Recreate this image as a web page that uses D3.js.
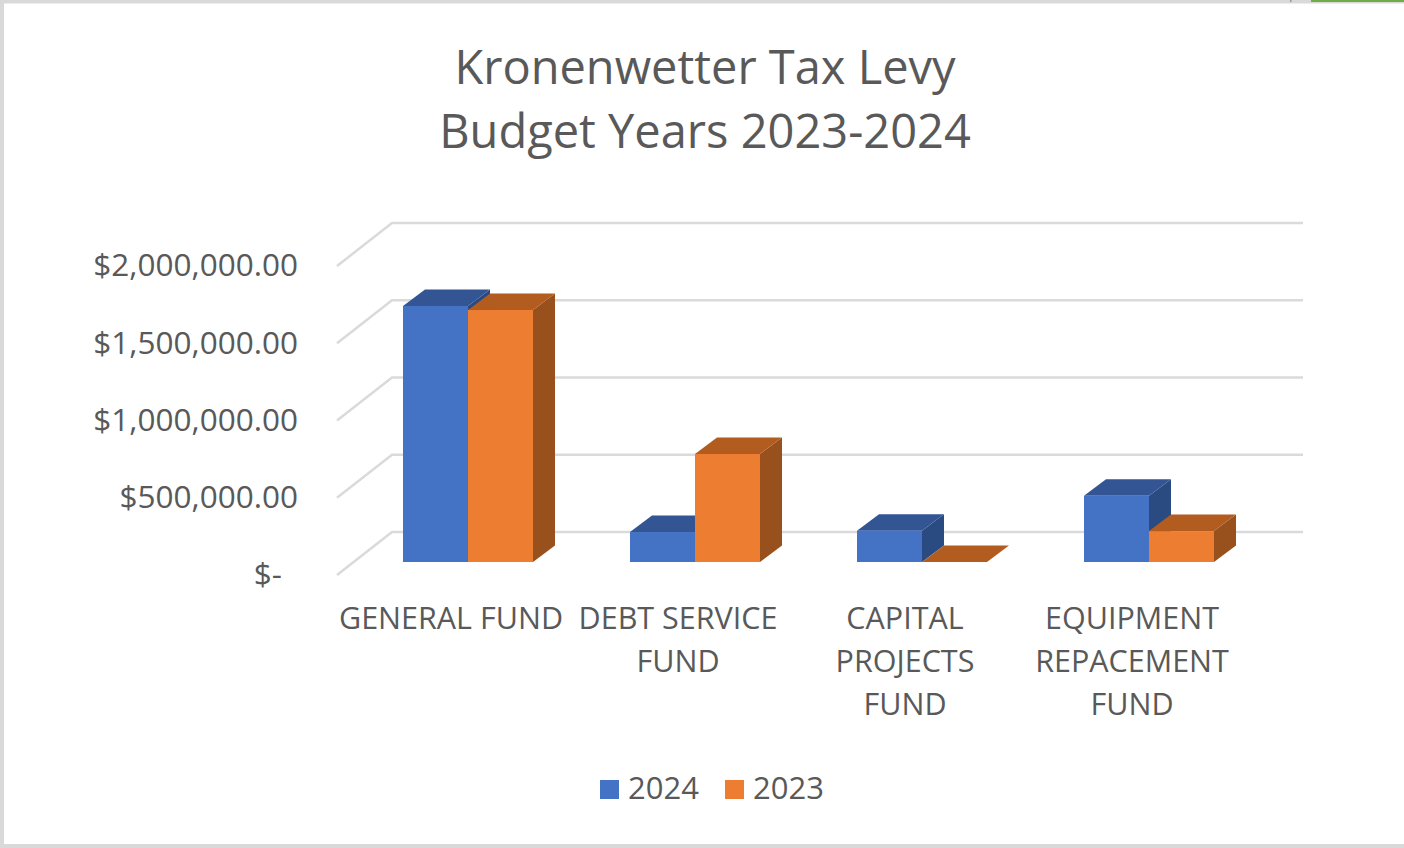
<!DOCTYPE html>
<html>
<head>
<meta charset="utf-8">
<title>Kronenwetter Tax Levy</title>
<script src="https://cdn.jsdelivr.net/npm/d3@7"></script>
<style>
  html, body { margin: 0; padding: 0; background: #fff; }
  svg { display: block; }
  text { font-family: "Open Sans", "Noto Sans", sans-serif; fill: #595959; }
</style>
</head>
<body>
<svg id="chart" width="1404" height="848"></svg>
<script>
const titleLines = ["Kronenwetter Tax Levy", "Budget Years 2023-2024"];
const categories = [["GENERAL FUND"], ["DEBT SERVICE", "FUND"], ["CAPITAL", "PROJECTS", "FUND"], ["EQUIPMENT", "REPACEMENT", "FUND"]];
const seriesNames = ["2024", "2023"];
const levy2024 = [1657000, 194000, 203000, 429000];
const levy2023 = [1631000, 699000, 0, 200000];
const tickValues = [0, 500000, 1000000, 1500000, 2000000];
const tickLabels = ["$-", "$500,000.00", "$1,000,000.00", "$1,500,000.00", "$2,000,000.00"];

const svg = d3.select("#chart");
const palette = [
  { front: "#4472C4", top: "#335593", side: "#2A4A82" },
  { front: "#ED7D31", top: "#B25C20", side: "#98501C" }
];

// Chart frame (open on the right) and the sliver of neighbouring window along the top edge
svg.append("path")
  .attr("d", "M1404,1.5H2V846H1404")
  .attr("fill", "none").attr("stroke", "#D9D9D9").attr("stroke-width", 4);
svg.append("rect").attr("x", 1311).attr("y", 0).attr("width", 93).attr("height", 2).attr("fill", "#70AD47");
svg.append("rect").attr("x", 1290).attr("y", 0).attr("width", 1.5).attr("height", 2).attr("fill", "#999");

// Value scales: bar fronts, and the back wall that the gridlines sit on
const yFront = d3.scaleLinear().domain([0, 2000000]).range([562, 253]);
const yWall = d3.scaleLinear().domain([0, 2000000]).range([532, 223]);
const wallDepth = { dx: 55, dy: 43 };
const barDepth = { dx: 22, dy: 16.5 };
const groupStep = 227;
const barWidth = 65;
const xGroup = d3.scaleBand().domain(d3.range(categories.length))
  .range([403, 403 + groupStep * categories.length]);

// Gridlines: a diagonal on the side wall joined to a rule across the back wall
const gridG = svg.append("g").attr("fill", "none").attr("stroke", "#DADADA").attr("stroke-width", 2.5);
gridG.selectAll("path").data(tickValues).join("path")
  .attr("d", v => {
    const p = d3.path();
    p.moveTo(392 - wallDepth.dx, yWall(v) + wallDepth.dy);
    p.lineTo(392, yWall(v));
    p.lineTo(1303, yWall(v));
    return p.toString();
  });

// Value axis labels
svg.append("g").selectAll("text").data(tickValues).join("text")
  .attr("x", v => v === 0 ? 282 : 298)
  .attr("y", v => yWall(v) + wallDepth.dy)
  .attr("dy", "0.33em")
  .attr("text-anchor", "end")
  .style("font-size", "31.5px")
  .text((v, i) => tickLabels[i]);

// Each bar is three faces, drawn series by series so the later one overlaps
[levy2024, levy2023].forEach((values, s) => {
  const g = svg.append("g");
  const colors = palette[s];
  const bars = g.selectAll("g").data(values).join("g");
  const left = (d, i) => xGroup(i) + s * barWidth;
  bars.append("path").attr("fill", colors.side).attr("d", (d, i) => {
    const x = left(d, i) + barWidth, t = yFront(d), b = yFront(0);
    return d3.line()([[x, t], [x + barDepth.dx, t - barDepth.dy], [x + barDepth.dx, b - barDepth.dy], [x, b]]) + "Z";
  });
  bars.append("path").attr("fill", colors.top).attr("d", (d, i) => {
    const x = left(d, i), t = yFront(d);
    return d3.line()([[x, t], [x + barDepth.dx, t - barDepth.dy], [x + barWidth + barDepth.dx, t - barDepth.dy], [x + barWidth, t]]) + "Z";
  });
  bars.append("rect").attr("fill", colors.front)
    .attr("x", left).attr("y", d => yFront(d))
    .attr("width", barWidth).attr("height", d => yFront(0) - yFront(d));
});

// Category labels, wrapped over as many lines as each one needs
const catLabels = svg.append("g").selectAll("text").data(categories).join("text")
  .attr("text-anchor", "middle").style("font-size", "30.5px");
catLabels.selectAll("tspan").data((d, i) => d.map(line => ({ line, i }))).join("tspan")
  .attr("x", d => xGroup(d.i) + 48)
  .attr("y", (d, j) => 618 + j * 43)
  .attr("dy", "0.35em")
  .text(d => d.line);

// Title
svg.append("g").selectAll("text").data(titleLines).join("text")
  .attr("x", 705).attr("y", (d, i) => 68 + i * 64).attr("dy", "0.35em")
  .attr("text-anchor", "middle").style("font-size", "47px").text(d => d);

// Legend
const legendX = [600, 725];
const legend = svg.append("g").selectAll("g").data(seriesNames).join("g")
  .attr("transform", (d, i) => `translate(${legendX[i]},780)`);
legend.append("rect").attr("width", 19).attr("height", 19).attr("fill", (d, i) => palette[i].front);
legend.append("text").attr("x", 28).attr("y", 9).attr("dy", "0.33em").style("font-size", "31px").text(d => d);
</script>
</body>
</html>
